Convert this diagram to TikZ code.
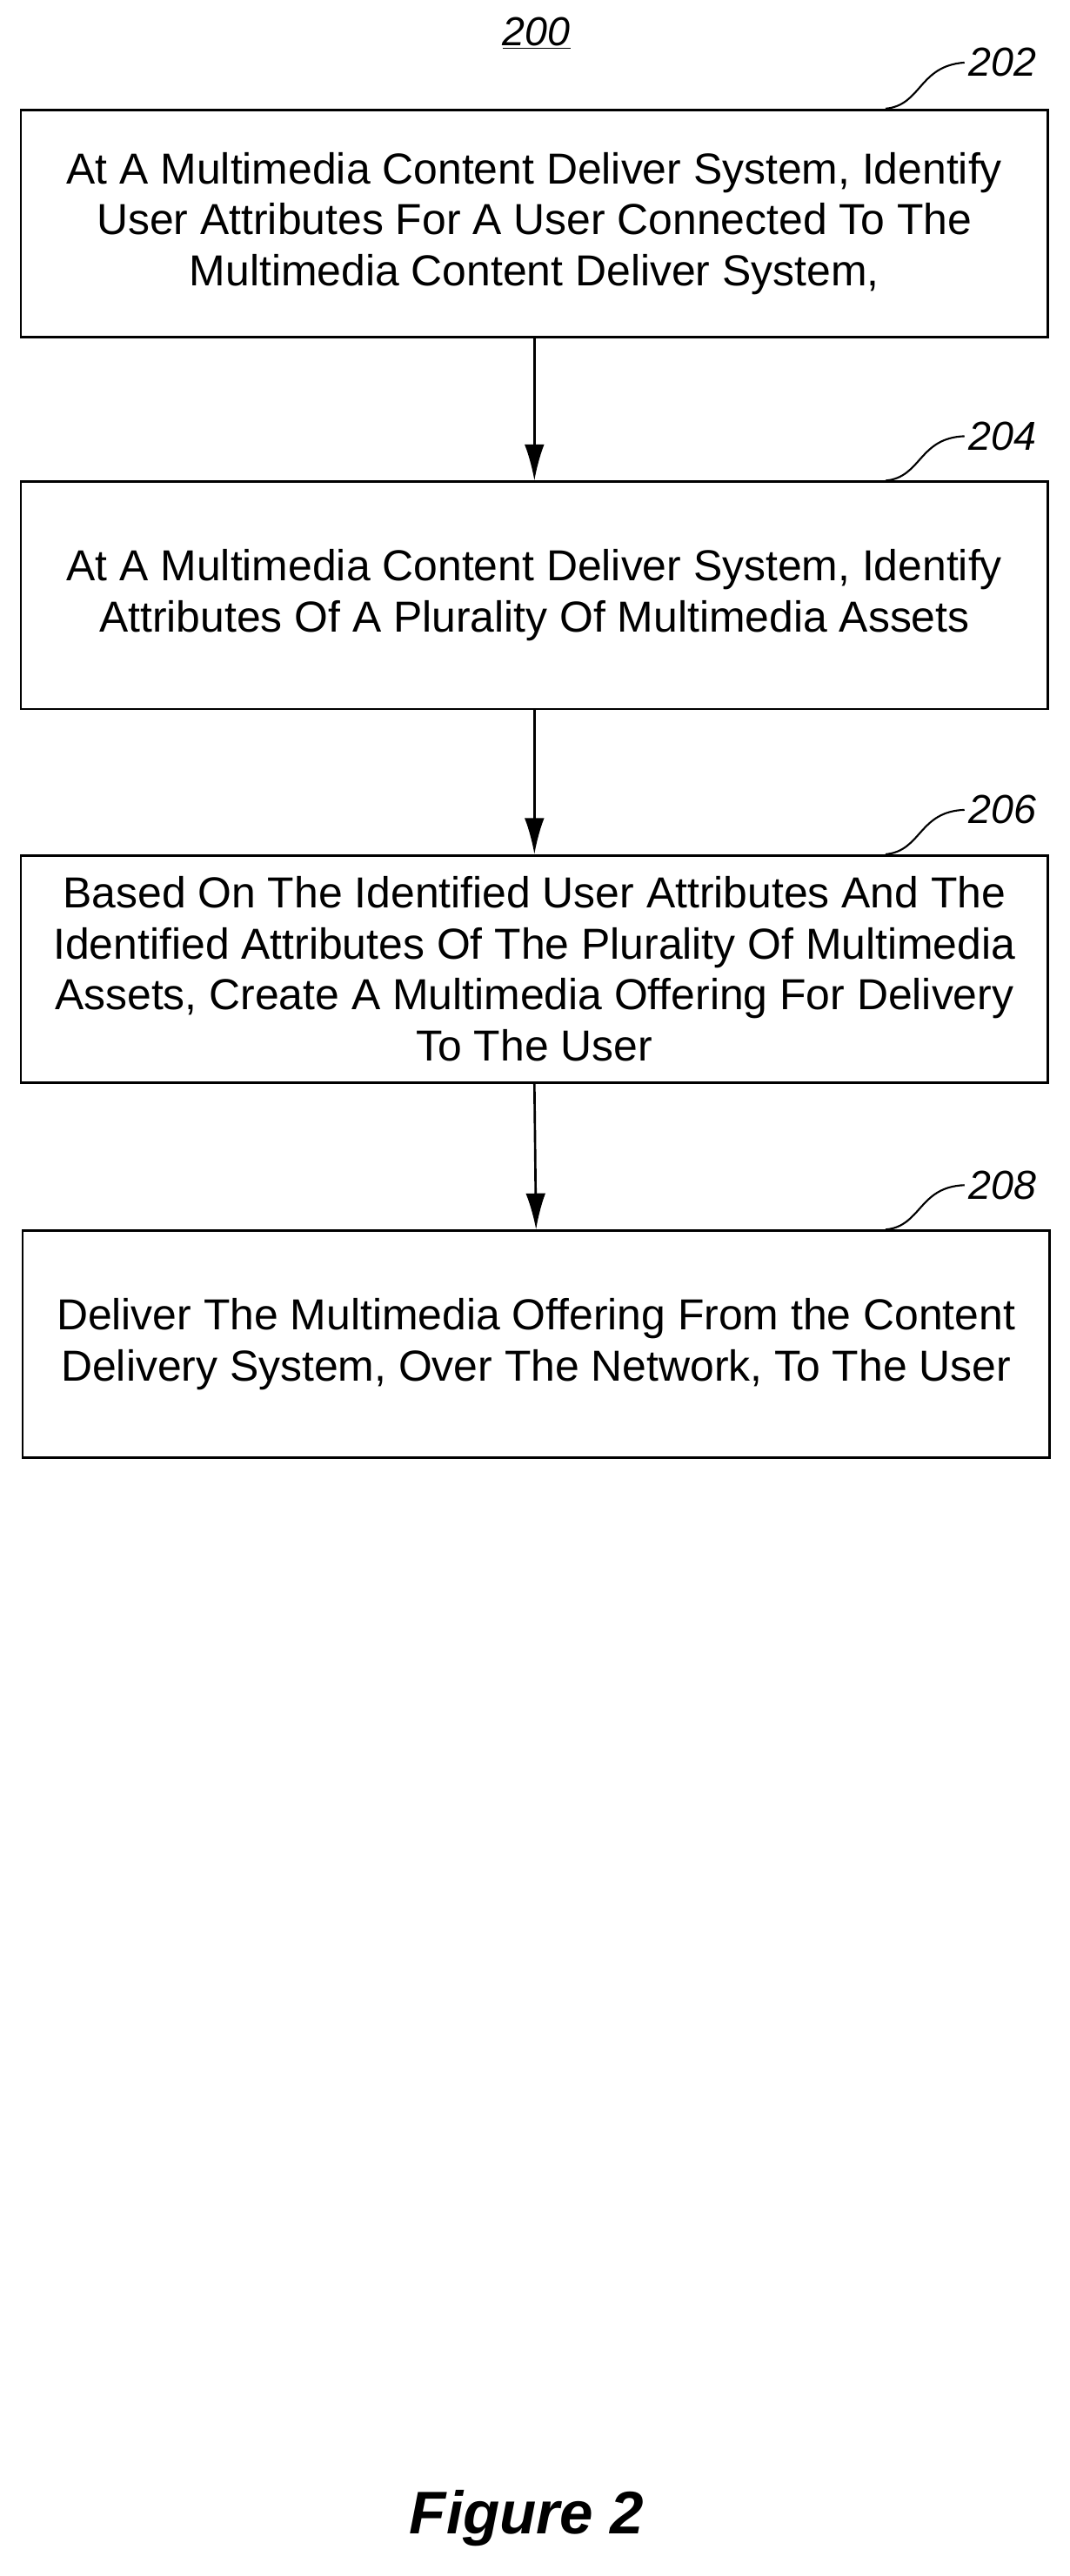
\documentclass[tikz,border=0pt]{standalone}
\usepackage{fontspec}
\setmainfont{Liberation Sans}
\usetikzlibrary{arrows.meta}
\begin{document}
\begin{tikzpicture}[x=0.05cm,y=-0.05cm,
  box/.style={draw,line width=2pt,minimum width=31.2cm,minimum height=6.9cm,align=center,font=\fontsize{37.5}{44}\selectfont,anchor=north west,inner sep=0pt},
  lbl/.style={font=\fontsize{35}{40}\selectfont\itshape,anchor=west},
  arr/.style={-{Latex[length=1.1cm,width=0.6cm]},line width=2pt}]
\useasboundingbox (0,0) rectangle (650,1565);
\node[box] (b1) at (12,66) {At A Multimedia Content Deliver System, Identify\\User Attributes For A User Connected To The\\Multimedia Content Deliver System,};
\node[box] (b2) at (12,292) {At A Multimedia Content Deliver System, Identify\\Attributes Of A Plurality Of Multimedia Assets};
\node[box] (b3) at (12,519) {Based On The Identified User Attributes And The\\Identified Attributes Of The Plurality Of Multimedia\\Assets, Create A Multimedia Offering For Delivery\\To The User};
\node[box] (b4) at (13,747) {Deliver The Multimedia Offering From the Content\\Delivery System, Over The Network, To The User};
\draw[arr] (b1.south) -- (b2.north);
\draw[arr] (b2.south) -- (b3.north);
\draw[arr] (b3.south) -- (b4.north);
\node[lbl] (l202) at (586,38) {202};
\node[lbl] (l204) at (586,265) {204};
\node[lbl] (l206) at (586,492) {206};
\node[lbl] (l208) at (586,720) {208};
\foreach \y/\n in {66/l202,292/l204,519/l206,747/l208}
  \draw[line width=1.6pt] (538,\y) .. controls (560,\y-2) and (558,\y-26) .. (\n.west);
\node[font=\fontsize{35}{40}\selectfont\itshape] (t200) at (326,20) {\underline{200}};
\node[font=\fontsize{52}{60}\selectfont\bfseries\itshape] (fig) at (320,1530) {Figure 2};
\end{tikzpicture}
\end{document}
